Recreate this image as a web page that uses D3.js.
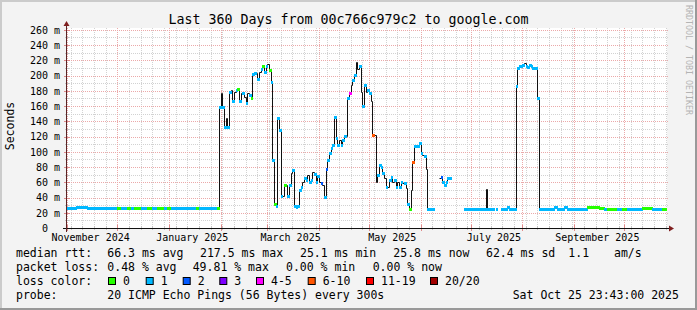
<!DOCTYPE html>
<html>
<head>
<meta charset="utf-8">
<script src="https://cdn.jsdelivr.net/npm/d3@7"></script>
<style>
body { margin: 0; background: #f3f3f3; }
svg { display: block; font-family: "DejaVu Sans Mono", monospace; }
</style>
</head>
<body>
<svg id="chart" width="697" height="310"></svg>
<script>
// loss classes, same order as the legend
var lossLabels = ['0', '1', '2', '3', '4-5', '6-10', '11-19', '20/20'];
var lossColors = ['#26ff00', '#00b8ff', '#0059ff', '#7e00ff', '#ff00ff', '#ff5500', '#ff0000', '#a10000'];

var yTicks = [0, 20, 40, 60, 80, 100, 120, 140, 160, 180, 200, 220, 240, 260];
var yMinor = [10, 30, 50, 70, 90, 110, 130, 150, 170, 190, 210, 230, 250];
var monthLabels = ['2024-11-15', '2025-01-15', '2025-03-15', '2025-05-15', '2025-07-15', '2025-09-15'];

// median rtt (ms) as steps: value holds until the next date, null = no data
var stepDates = [
	'2024-10-31','2024-11-06','2024-11-13','2024-12-01','2024-12-03','2024-12-07','2024-12-09','2024-12-11','2024-12-15',
	'2024-12-19','2024-12-22','2024-12-25','2024-12-29','2024-12-31','2025-01-02','2025-01-17','2025-01-19','2025-01-30',
	// daily, Jan 31 .. Feb 28
	'2025-01-31','2025-02-01','2025-02-02','2025-02-03','2025-02-04','2025-02-05','2025-02-06','2025-02-07','2025-02-08','2025-02-09',
	'2025-02-10','2025-02-11','2025-02-12','2025-02-13','2025-02-14','2025-02-15','2025-02-16','2025-02-17','2025-02-18','2025-02-19',
	'2025-02-20','2025-02-21','2025-02-22','2025-02-23','2025-02-24','2025-02-25','2025-02-26','2025-02-27','2025-02-28',
	// March
	'2025-03-01','2025-03-02','2025-03-03','2025-03-04','2025-03-05','2025-03-06','2025-03-07','2025-03-08','2025-03-09','2025-03-10',
	'2025-03-11','2025-03-12','2025-03-13','2025-03-14','2025-03-15','2025-03-16','2025-03-17','2025-03-18','2025-03-19','2025-03-20',
	'2025-03-21','2025-03-22','2025-03-23','2025-03-24','2025-03-25','2025-03-26','2025-03-27','2025-03-28','2025-03-29','2025-03-30',
	'2025-03-31',
	// April
	'2025-04-01','2025-04-02','2025-04-03','2025-04-04','2025-04-05','2025-04-06','2025-04-07','2025-04-08','2025-04-09','2025-04-10',
	'2025-04-11','2025-04-12','2025-04-13','2025-04-14','2025-04-15','2025-04-16','2025-04-17','2025-04-18','2025-04-19','2025-04-20',
	'2025-04-21','2025-04-22','2025-04-23','2025-04-24','2025-04-25','2025-04-26','2025-04-27','2025-04-28','2025-04-29','2025-04-30',
	// May
	'2025-05-01','2025-05-02','2025-05-03','2025-05-04','2025-05-05','2025-05-06','2025-05-07','2025-05-08','2025-05-09','2025-05-10',
	'2025-05-11','2025-05-12','2025-05-13','2025-05-14','2025-05-15','2025-05-16','2025-05-17','2025-05-18','2025-05-19','2025-05-20',
	'2025-05-21','2025-05-22','2025-05-23','2025-05-24','2025-05-25','2025-05-26','2025-05-27','2025-05-28','2025-05-29','2025-05-30',
	'2025-05-31',
	// June .. end
	'2025-06-01','2025-06-02','2025-06-03','2025-06-04','2025-06-05','2025-06-09','2025-06-12','2025-06-13','2025-06-14','2025-06-15',
	'2025-06-16','2025-06-17','2025-06-19','2025-06-27','2025-07-10','2025-07-11','2025-07-15','2025-07-16','2025-07-17','2025-07-19',
	'2025-07-23','2025-07-24','2025-07-28','2025-07-29','2025-07-30','2025-08-01','2025-08-02','2025-08-03','2025-08-04','2025-08-05',
	'2025-08-06','2025-08-07','2025-08-10','2025-08-11','2025-08-20','2025-08-22','2025-08-26','2025-08-28','2025-09-09','2025-09-16',
	'2025-09-19','2025-09-21','2025-09-27','2025-09-30','2025-10-03','2025-10-12','2025-10-18','2025-10-24','2025-10-26'
];
var medianMs = [
	26, 27, 26, 26, 26, 26, 26, 26, 26,
	26, 26, 26, 26, 26, 26, 26, 26, 26,
	159, 177, 159, 132, 144, 132, 179, 181, 167, 179,
	181, 183, 166, 177, 177, 172, 164, 177, 174, 170,
	202, 204, 204, 196, 205, 208, 212, 205, 213,
	215, 207, 192, 89, 32, 29, 144, 129, 42, 42,
	56, 56, 42, 56, 72, 76, 29, 27, 29, 50,
	54, 61, 65, 63, 70, 61, 63, 73, 71, 61,
	68,
	61, 59, 56, 41, 78, 89, 98, 105, 109, 146,
	118, 109, 116, 109, 115, 121, 121, 170, 177, 188,
	194, 201, 217.5, 208, 212, 179, 160, 188, 179, 181,
	177, 166, 122, 122, 61, 69, 83, 80, 72, 65,
	54, 54, 63, 67, 61, 63, 54, 61, 54, 61,
	59, 59, 52, 32, 25, 50, 87, 107, 107, 108,
	111,
	98, 96, 94, 78, 25, null, 65, 67, 61, 56,
	61, 65, null, 25, 51, 25, null, 25, null, 25,
	28, 25, 186, 210, 212, 214, 216, 212, 211, 214,
	212, 210, 170, 25, 27, 25, 27, 25, 27.5, 26.5,
	25, 25, 25, 25, 25, 26.5, 25, 25, null
];
// index into lossColors, null = plain black median only
var lossClass = [
	1, 1, 1, 0, 1, 0, 1, 0, 1,
	0, 1, 0, 1, 0, 1, 0, 1, 0,
	1, null, 1, 1, null, 1, 1, null, 1, null,
	1, 0, 1, null, 1, null, 1, null, 1, 0,
	1, 1, null, 1, null, 1, 0, 1, 1,
	null, 0, 1, 1, 0, 1, 1, 1, 1, null,
	0, null, 1, 1, null, 1, 1, 1, 1, 1,
	1, null, 1, 1, null, 1, 1, null, 1, 1,
	1,
	null, 2, null, 1, 2, 1, 1, 1, 1, 1,
	1, 1, null, 1, 1, 1, null, 1, 4, null,
	1, 1, null, null, 1, null, 1, 1, null, 1,
	1, null, 5, null, null, 1, 1, 1, 1, null,
	1, null, 1, 1, null, 1, 1, null, 1, 1,
	null, 1, null, 1, 0, null, 5, 1, null, 1,
	1,
	1, null, 1, null, 1, null, null, 2, 1, 1,
	1, 1, null, 1, null, 1, null, 1, null, 1,
	1, 1, 1, 1, 1, 1, null, 1, 1, 1,
	1, 1, 1, 1, 1, 1, 1, 1, 0, 0,
	1, 0, 1, 0, 1, 0, 1, 0, null
];

// legend rows: [text, x]
var rttLegend = [['median rtt:', 16], ['66.3 ms avg', 107.3], ['217.5 ms max', 200], ['25.1 ms min', 300],
	['25.8 ms now', 393.3], ['62.4 ms sd', 486], ['1.1', 568.3], ['am/s', 614]];
var lossLegend = [['packet loss:', 16], ['0.48 % avg', 107.3], ['49.81 % max', 192.7], ['0.00 % min', 286], ['0.00 % now', 372.7]];
var colorBoxX = [108, 145.7, 182.7, 219.3, 256, 307.7, 366, 430];
var probeLegend = [['probe:', 16], ['20 ICMP Echo Pings (56 Bytes) every 300s', 107.3], ['Sat Oct 25 23:43:00 2025', 512.7]];

var W = 697, H = 310;
var plot = { left: 67, right: 667, top: 28, bottom: 228 };

var svg = d3.select('#chart');
var parse = d3.utcParse('%Y-%m-%d');

var x = d3.scaleUtc()
	.domain([new Date(Date.UTC(2024, 9, 31, 20)), new Date(Date.UTC(2025, 9, 26, 20))])
	.range([plot.left, plot.right]);
var y = d3.scaleLinear().domain([0, 262.4]).range([plot.bottom, plot.top]);

var px = (v) => Math.round(v) + 0.5;

// background + bevel frame
svg.append('rect').attr('width', W).attr('height', H).attr('fill', '#f3f3f3');
svg.append('path').attr('d', `M0,0H${W}V2H2V${H}H0Z`).attr('fill', '#cbcbcb');
svg.append('path').attr('d', `M${W},${H}H0V${H - 2}H${W - 2}V0H${W}Z`).attr('fill', '#999');
svg.append('rect')
	.attr('x', plot.left).attr('y', plot.top)
	.attr('width', plot.right - plot.left).attr('height', plot.bottom - plot.top)
	.attr('fill', '#fff');

// grid
var grid = svg.append('g').attr('fill', 'none').attr('stroke-dasharray', '1,1');
var sundays = d3.utcSunday.range(x.domain()[0], x.domain()[1]);
var months = d3.utcMonth.range(x.domain()[0], x.domain()[1]);

grid.selectAll('.vmin').data(sundays).enter().append('line')
	.attr('x1', (d) => px(x(d))).attr('x2', (d) => px(x(d)))
	.attr('y1', plot.top).attr('y2', plot.bottom)
	.attr('stroke', '#d2d2d2');
grid.selectAll('.hmin').data(yMinor).enter().append('line')
	.attr('x1', plot.left).attr('x2', plot.right + 1)
	.attr('y1', (d) => px(y(d))).attr('y2', (d) => px(y(d)))
	.attr('stroke', '#d2d2d2');
grid.selectAll('.vmaj').data(months).enter().append('line')
	.attr('x1', (d) => px(x(d))).attr('x2', (d) => px(x(d)))
	.attr('y1', plot.top).attr('y2', plot.bottom)
	.attr('stroke', '#eba9a9');
grid.selectAll('.hmaj').data(yTicks.slice(1)).enter().append('line')
	.attr('x1', plot.left).attr('x2', plot.right + 1)
	.attr('y1', (d) => px(y(d))).attr('y2', (d) => px(y(d)))
	.attr('stroke', '#eba9a9');

// median, as a black step line plus loss coloured bars
var steps = stepDates.map((d, i) => ({ t: parse(d), v: medianMs[i], loss: lossClass[i] }));
var linePts = [];
steps.forEach((s, i) => {
	if (s.v == null || i === steps.length - 1) { linePts.push(null); return; }
	linePts.push({ t: s.t, v: s.v }, { t: steps[i + 1].t, v: s.v });
});

svg.append('clipPath').attr('id', 'clip').append('rect')
	.attr('x', plot.left).attr('y', plot.top - 5)
	.attr('width', plot.right - plot.left).attr('height', plot.bottom - plot.top + 5);

var data = svg.append('g').attr('clip-path', 'url(#clip)');
var line = d3.line()
	.defined((p) => p != null)
	.x((p) => px(x(p.t)))
	.y((p) => px(y(p.v)));
data.append('path').datum(linePts)
	.attr('d', line)
	.attr('fill', 'none').attr('stroke', '#111').attr('stroke-width', 1);

var bars = steps.filter((s, i) => s.v != null && s.loss != null && i < steps.length - 1)
	.map((s) => ({ s, next: steps[steps.indexOf(s) + 1].t }));
data.selectAll('rect.loss').data(bars).enter().append('rect')
	.attr('class', 'loss')
	.attr('x', (d) => Math.round(x(d.s.t)))
	.attr('width', (d) => Math.max(1, Math.round(x(d.next)) - Math.round(x(d.s.t)) + 1))
	.attr('y', (d) => Math.round(y(d.s.v)) - 1)
	.attr('height', 3)
	.attr('fill', (d) => lossColors[d.s.loss]);

// axes with ticks and arrows
var axes = svg.append('g');
axes.selectAll('.xt').data(sundays).enter().append('line')
	.attr('x1', (d) => px(x(d))).attr('x2', (d) => px(x(d)))
	.attr('y1', plot.bottom - 2).attr('y2', plot.bottom + 2)
	.attr('stroke', '#c4c4c4');
axes.selectAll('.xT').data(months).enter().append('line')
	.attr('x1', (d) => px(x(d))).attr('x2', (d) => px(x(d)))
	.attr('y1', plot.bottom - 3).attr('y2', plot.bottom + 3)
	.attr('stroke', '#e08a8a');
axes.selectAll('.yt').data(yMinor).enter().append('line')
	.attr('x1', plot.left - 2).attr('x2', plot.left + 2)
	.attr('y1', (d) => px(y(d))).attr('y2', (d) => px(y(d)))
	.attr('stroke', '#c4c4c4');
axes.selectAll('.yT').data(yTicks).enter().append('line')
	.attr('x1', plot.left - 3).attr('x2', plot.left + 3)
	.attr('y1', (d) => px(y(d))).attr('y2', (d) => px(y(d)))
	.attr('stroke', '#e08a8a');

axes.append('line')
	.attr('x1', plot.left - 4).attr('x2', plot.right + 3)
	.attr('y1', px(y(0))).attr('y2', px(y(0)))
	.attr('stroke', '#111');
axes.append('line')
	.attr('x1', px(plot.left - 1)).attr('x2', px(plot.left - 1))
	.attr('y1', plot.bottom + 4).attr('y2', plot.top - 4)
	.attr('stroke', '#5a2424');
axes.append('path')
	.attr('d', `M${plot.right + 2},${px(y(0)) - 3}L${plot.right + 7},${px(y(0))}L${plot.right + 2},${px(y(0)) + 3}Z`)
	.attr('fill', '#7f1f1f');
axes.append('path')
	.attr('d', `M${px(plot.left - 1) - 3},${plot.top - 2}L${px(plot.left - 1)},${plot.top - 7}L${px(plot.left - 1) + 3},${plot.top - 2}Z`)
	.attr('fill', '#7f1f1f');

// axis labels
svg.append('g').selectAll('text').data(yTicks).enter().append('text')
	.attr('x', 60).attr('y', (d) => y(d) + 3.8)
	.attr('text-anchor', 'end')
	.attr('font-size', 10)
	.style('white-space', 'pre')
	.text((d) => d === 0 ? '0  ' : d + ' m');

var fmtMonth = d3.utcFormat('%B %Y');
svg.append('g').selectAll('text').data(monthLabels.map(parse)).enter().append('text')
	.attr('x', (d) => x(d)).attr('y', 241)
	.attr('text-anchor', 'middle')
	.attr('font-size', 10)
	.text(fmtMonth);

svg.append('text')
	.attr('transform', 'translate(14,126) rotate(-90)')
	.attr('text-anchor', 'middle')
	.attr('font-size', 11.5)
	.text('Seconds');

svg.append('text')
	.attr('x', W / 2).attr('y', 24)
	.attr('text-anchor', 'middle')
	.attr('font-size', 13.3)
	.text('Last 360 Days from 00c766c979c2 to google.com');

svg.append('text')
	.attr('transform', 'translate(685.5,60) rotate(90)')
	.attr('text-anchor', 'middle')
	.attr('font-size', 8.3)
	.attr('fill', '#b4b4b4')
	.text('RRDTOOL / TOBI OETIKER');

// legend
var legend = svg.append('g').attr('font-size', 11.5).style('white-space', 'pre');
var textRow = (rows, base) => {
	legend.append('g').selectAll('text').data(rows).enter().append('text')
		.attr('x', (d) => d[1]).attr('y', base)
		.text((d) => d[0]);
};
textRow(rttLegend, 257.4);
textRow(lossLegend, 271.1);
textRow([['loss color:', 16]], 284.8);
textRow(probeLegend, 298.5);

var boxes = legend.append('g').selectAll('g').data(lossLabels).enter().append('g');
boxes.append('rect')
	.attr('x', (d, i) => colorBoxX[i] + 0.5).attr('y', 277.5)
	.attr('width', 7).attr('height', 7)
	.attr('fill', (d, i) => lossColors[i]).attr('stroke', '#000');
boxes.append('text')
	.attr('x', (d, i) => colorBoxX[i] + 15).attr('y', 284.8)
	.text((d) => d);
</script>
</body>
</html>
